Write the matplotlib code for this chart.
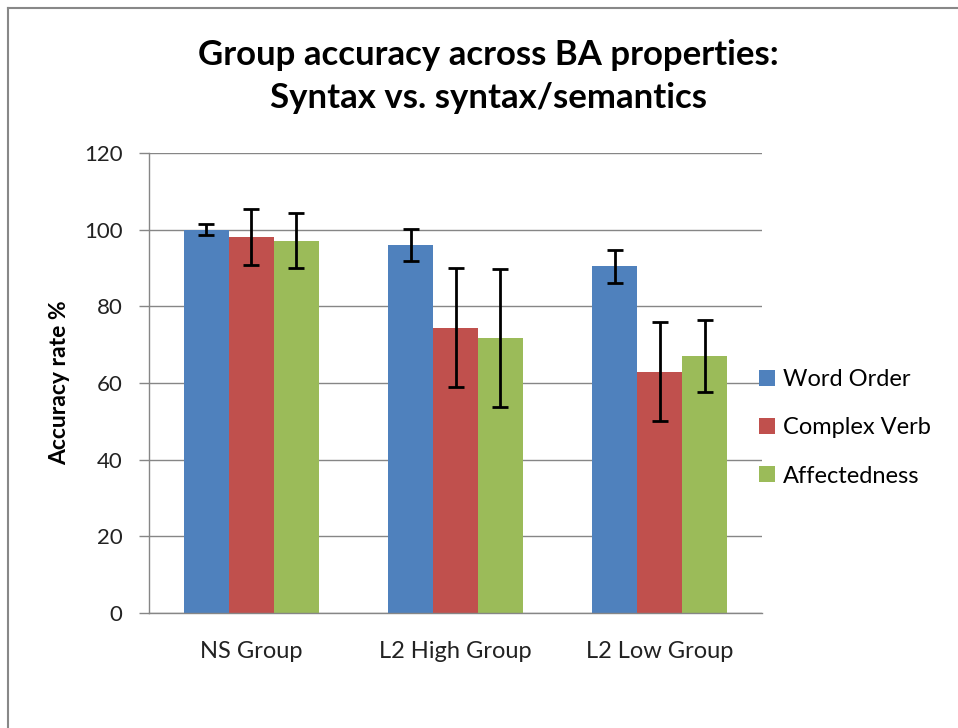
import matplotlib
matplotlib.use("Agg")
import matplotlib.pyplot as plt
import numpy as np
from matplotlib.lines import Line2D
from matplotlib.patches import Patch

groups = ["NS Group", "L2 High Group", "L2 Low Group"]
series = ["Word Order", "Complex Verb", "Affectedness"]
word_order = [100.0, 95.9, 90.5]
word_order_err = [1.5, 4.2, 4.3]
complex_verb = [98.1, 74.4, 63.0]
complex_verb_err = [7.4, 15.5, 12.9]
affectedness = [97.1, 71.8, 67.0]
affectedness_err = [7.2, 18.0, 9.4]
yticks = [0, 20, 40, 60, 80, 100, 120]

colors = ["#4F81BD", "#C0504D", "#9BBB59"]
font = "Lato"

fig = plt.figure(figsize=(9.58, 7.28), dpi=100)
ax = fig.add_axes([149/958, 1-613/728, (762-149)/958, (613-153)/728])

x = np.arange(len(groups))
w = 0.22
vals = [word_order, complex_verb, affectedness]
errs = [word_order_err, complex_verb_err, affectedness_err]
for i, (v, e, c) in enumerate(zip(vals, errs, colors)):
    ax.bar(x + (i-1)*w, v, width=w, color=c, zorder=2, label=series[i])
    ax.errorbar(x + (i-1)*w, v, yerr=e, fmt="none", ecolor="black",
                elinewidth=2, capsize=6, capthick=2, zorder=3)

ax.set_xlim(-0.5, 2.5)
ax.set_ylim(0, 120)
ax.set_yticks(yticks)
ax.set_yticklabels([str(t) for t in yticks], fontsize=16, family=font, color="#222222")
ax.set_xticks(x)
ax.set_xticklabels(groups, fontsize=17, family=font, color="#222222")
ax.tick_params(axis="x", length=0, pad=20)
ax.tick_params(axis="y", length=7, color="#868686", width=1, pad=12)
ax.yaxis.grid(True, color="#868686", linewidth=1)
ax.set_axisbelow(True)
for s in ["top", "right"]:
    ax.spines[s].set_visible(False)
for s in ["left", "bottom"]:
    ax.spines[s].set_color("#868686")
    ax.spines[s].set_linewidth(1)

ax.set_ylabel("Accuracy rate %", fontsize=16.5, fontweight="bold", family=font, labelpad=10)

fig.text(488/958, 1-55/728, "Group accuracy across BA properties:", ha="center", va="center",
         fontsize=25, fontweight="bold", family=font)
fig.text(488/958, 1-98/728, "Syntax vs. syntax/semantics", ha="center", va="center",
         fontsize=25, fontweight="bold", family=font)

handles = [Patch(facecolor=c, edgecolor="none") for c in colors]
leg = fig.legend(handles, series, loc="center left", bbox_to_anchor=(750/958, 1-428/728),
                 frameon=False, prop={"family": font, "size": 17},
                 handlelength=0.65, handleheight=0.65, handletextpad=0.35, labelspacing=1.15,
                 borderaxespad=0, borderpad=0.4)

# outer border
fig.add_artist(Line2D([8/958, 8/958], [0, 1-8/728], transform=fig.transFigure, color="#888888", lw=1.5))
fig.add_artist(Line2D([8/958, 1], [1-8/728, 1-8/728], transform=fig.transFigure, color="#888888", lw=1.5))

fig.savefig("out.png", dpi=100)
